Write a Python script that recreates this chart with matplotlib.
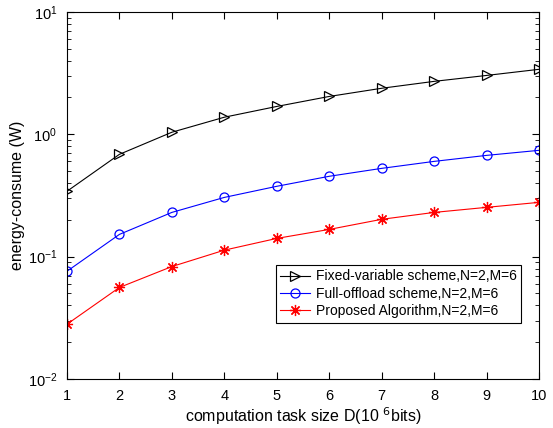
import matplotlib
matplotlib.use("Agg")
import matplotlib.pyplot as plt
from matplotlib.ticker import LogLocator, NullFormatter

plt.rcParams['font.family'] = ['Liberation Sans', 'DejaVu Sans']

D = [1, 2, 3, 4, 5, 6, 7, 8, 9, 10]
fixed = [0.342, 0.686, 1.04, 1.38, 1.69, 2.04, 2.38, 2.71, 3.03, 3.40]
full = [0.0759, 0.152, 0.230, 0.305, 0.376, 0.454, 0.527, 0.601, 0.673, 0.74]
proposed = [0.028, 0.056, 0.083, 0.113, 0.141, 0.167, 0.202, 0.230, 0.253, 0.278]

fig = plt.figure(figsize=(5.53, 4.28), dpi=100)
ax = fig.add_axes([0.121, 0.1145, 0.854, 0.8575])

ax.semilogy(D, fixed, color='black', marker='>', markersize=7.5, markerfacecolor='none',
            markeredgewidth=0.9, linewidth=0.8, label='Fixed-variable scheme,N=2,M=6')
ax.semilogy(D, full, color='blue', marker='o', markersize=6.5, markerfacecolor='none',
            markeredgewidth=0.9, linewidth=0.8, label='Full-offload scheme,N=2,M=6')
ax.semilogy(D, proposed, color='red', marker=(8, 2, 0), markersize=8,
            markeredgewidth=0.9, linewidth=0.8, label='Proposed Algorithm,N=2,M=6')

ax.set_xlim(1, 10)
ax.set_ylim(1e-2, 1e1)
ax.set_xticks(D)
ax.yaxis.set_major_locator(LogLocator(base=10, numticks=10))
ax.yaxis.set_minor_locator(LogLocator(base=10, subs=range(2, 10), numticks=100))
ax.yaxis.set_minor_formatter(NullFormatter())
ax.tick_params(which='both', direction='in', top=True, right=True, labelsize=10.5, pad=7)
ax.tick_params(which='major', length=5)
ax.tick_params(which='minor', length=3)
for s in ax.spines.values():
    s.set_linewidth(0.8)

ax.set_xlabel(r'computation task size D(10 $^6$bits)', fontsize=11.5, labelpad=2)
ax.set_ylabel('energy-consume (W)', fontsize=11.5, labelpad=2)

leg = ax.legend(loc='lower right', bbox_to_anchor=(0.976, 0.135), fontsize=10,
                fancybox=False, edgecolor='black', framealpha=1,
                handlelength=2.2, borderpad=0.3, labelspacing=0.25, handletextpad=0.4)
leg.get_frame().set_linewidth(0.8)

fig.savefig('out.png', dpi=100)
